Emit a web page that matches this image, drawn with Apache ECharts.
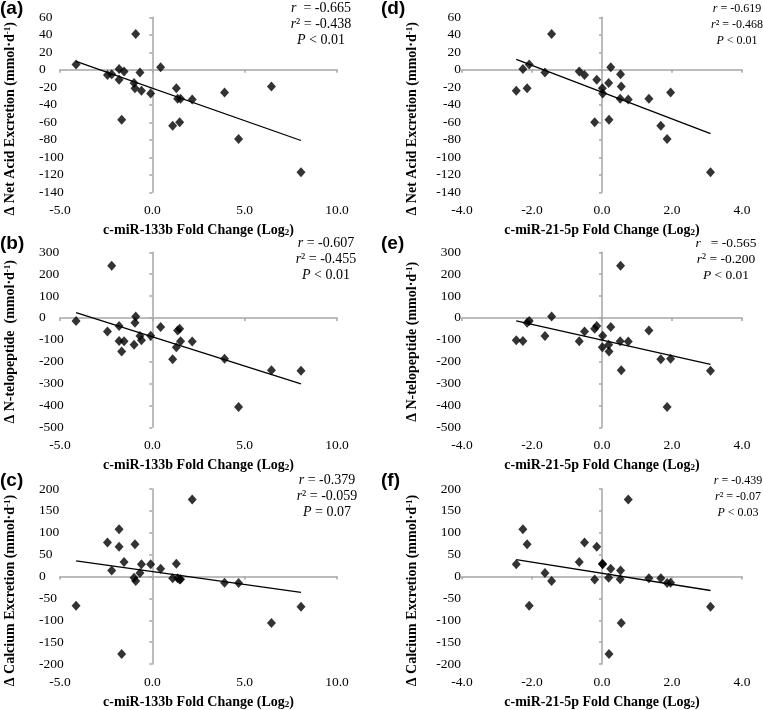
<!DOCTYPE html>
<html>
<head>
<meta charset="utf-8">
<script src="https://cdn.jsdelivr.net/npm/echarts@6/dist/echarts.min.js"></script>
<style>
html,body{margin:0;padding:0;background:#fff;}
#chart{width:763px;height:710px;}
</style>
</head>
<body>
<div id="chart"></div>
<script>
// ---- data: one entry per subject (24 subjects) ----
const x133 = [-4.13,-2.43,-2.20,-1.80,-1.80,-1.53,-1.66,-0.99,-0.94,-0.90,-0.67,-0.59,-0.09,0.45,1.30,1.10,1.37,1.53,1.48,2.16,3.91,4.67,6.45,8.05];
const x21  = [-2.08,-0.50,0.53,-2.26,-0.15,-0.65,0.20,0.19,-2.14,-1.44,-1.63,-2.45,0.02,0.25,0.01,1.68,1.34,0.52,-0.21,0.75,1.96,1.86,0.55,3.10];
const netAcid = [6,-6,-5,1,-11.4,-2,-57,-15,-21,41,-3,-24,-27,3,-21,-64,-33,-33,-60,-34,-26,-79,-19,-117];
const nTelo   = [-14,-62,238,-105,-37,-107,-154,-123,-22,7,-83,-102,-81,-41,-134,-189,-58,-107,-50,-108,-187,-407,-239,-242];
const calcium = [-67,78,14,108,68,33,-177,-3,74,-10,8,28,28,18,29,-4,-4,-6,-7,176,-14,-15,-106,-69];

// regression lines (end points)
const trendA = [[-4.13, 9.5], [8.05, -80.8]];
const trendB = [[-4.13, 24.4], [8.05, -302]];
const trendC = [[-4.13, 35.7], [8.05, -36.5]];
const trendD = [[-2.45, 11.8], [3.10, -73]];
const trendE = [[-2.45, -13.7], [3.10, -212]];
const trendF = [[-2.45, 38.8], [3.10, -32]];

// statistics text
const statR  = ['-0.665', '-0.607', '-0.379', '-0.619', '-0.565', '-0.439'];
const statR2 = ['-0.438', '-0.455', '-0.059', '-0.468', '-0.200', '-0.07'];
const statP  = ['< 0.01', '< 0.01', '= 0.07', '< 0.01', '< 0.01', '< 0.03'];
const letters = ['(a)', '(b)', '(c)', '(d)', '(e)', '(f)'];

const xTitle133 = 'c-miR-133b Fold Change (Log{sub|2})';
const xTitle21  = 'c-miR-21-5p Fold Change (Log{sub|2})';
const yTitleNAE = 'Δ Net Acid Excretion (mmol·d{sup|-1})';
const yTitleNTx1 = 'Δ N-telopeptide  (mmol·d{sup|-1})';
const yTitleNTx2 = 'Δ N-telopeptide (mmol·d{sup|-1})';
const yTitleCa  = 'Δ Calcium Excretion (mmol·d{sup|-1})';

// ---- layout ----
const SERIF = 'Liberation Serif, Times New Roman, serif';
const SANS = 'Liberation Sans, Arial, sans-serif';
const LEFT = {left: 60, width: 277};
const RIGHT = {left: 462, width: 280};
const ROWS = [17.3, 252.3, 489];
const H = 175;

const panels = [
  {col: LEFT,  row: 0, xs: x133, ys: netAcid, trend: trendA, xr: [-5, 10, 5], yr: [-140, 60, 20], xName: xTitle133, yName: yTitleNAE, yShift: 28, statX: 321, statFont: 14},
  {col: LEFT,  row: 1, xs: x133, ys: nTelo,   trend: trendB, xr: [-5, 10, 5], yr: [-500, 300, 100], xName: xTitle133, yName: yTitleNTx1, yShift: 4, statX: 326, statFont: 14},
  {col: LEFT,  row: 2, xs: x133, ys: calcium, trend: trendC, xr: [-5, 10, 5], yr: [-200, 200, 50], xName: xTitle133, yName: yTitleCa, yShift: 28, statX: 327, statFont: 14},
  {col: RIGHT, row: 0, xs: x21,  ys: netAcid, trend: trendD, xr: [-4, 4, 2],  yr: [-140, 60, 20], xName: xTitle21, yName: yTitleNAE, yShift: 28, statX: 737, statFont: 12},
  {col: RIGHT, row: 1, xs: x21,  ys: nTelo,   trend: trendE, xr: [-4, 4, 2],  yr: [-500, 300, 100], xName: xTitle21, yName: yTitleNTx2, yShift: 4, statX: 726, statFont: 13.5},
  {col: RIGHT, row: 2, xs: x21,  ys: calcium, trend: trendF, xr: [-4, 4, 2],  yr: [-200, 200, 50], xName: xTitle21, yName: yTitleCa, yShift: 28, statX: 738, statFont: 12}
];

const AXIS_GRAY = '#a6a6a6';
const richTitle = {
  sub: {fontFamily: SERIF, fontWeight: 'bold', fontSize: 9, verticalAlign: 'bottom', color: '#000'},
  sup: {fontFamily: SERIF, fontWeight: 'bold', fontSize: 9, verticalAlign: 'top', color: '#000'}
};

const grid = [], xAxis = [], yAxis = [], series = [], graphic = [];

panels.forEach((p, i) => {
  const isLeft = p.col === LEFT;
  grid.push({left: p.col.left, width: p.col.width, top: ROWS[p.row], height: H});
  // label x-axis (bottom edge)
  xAxis.push({
    type: 'value', gridIndex: i, position: 'bottom',
    min: p.xr[0], max: p.xr[1], interval: p.xr[2],
    axisLine: {show: false, onZero: false}, axisTick: {show: false}, splitLine: {show: false},
    axisLabel: {formatter: v => v.toFixed(1), color: '#000', fontFamily: SERIF, fontSize: 13.5, margin: 11},
    name: p.xName, nameLocation: 'middle', nameGap: 31,
    nameTextStyle: {fontFamily: SERIF, fontWeight: 'bold', fontSize: 14, color: '#000', rich: richTitle}
  });
  // zero-line x-axis
  xAxis.push({
    type: 'value', gridIndex: i, position: 'bottom',
    min: p.xr[0], max: p.xr[1], interval: p.xr[2],
    axisLine: {show: true, onZero: true, lineStyle: {color: AXIS_GRAY, width: 1.5}},
    axisTick: {show: true, length: 3, lineStyle: {color: AXIS_GRAY, width: 1.5}},
    axisLabel: {show: false}, splitLine: {show: false}
  });
  // label y-axis (left edge)
  yAxis.push({
    type: 'value', gridIndex: i, position: 'left',
    min: p.yr[0], max: p.yr[1], interval: p.yr[2],
    axisLine: {show: false, onZero: false}, axisTick: {show: false}, splitLine: {show: false},
    axisLabel: {color: '#000', fontFamily: SERIF, fontSize: 13.5,
      align: isLeft ? 'left' : 'right', margin: isLeft ? 21 : 1},
    name: p.yName, nameLocation: 'middle', nameGap: 43,
    nameTextStyle: {fontFamily: SERIF, fontWeight: 'bold', fontSize: 14, color: '#000', rich: richTitle,
      padding: [0, p.yShift, 0, 0]}
  });
  // zero-line y-axis
  yAxis.push({
    type: 'value', gridIndex: i, position: 'left',
    min: p.yr[0], max: p.yr[1], interval: p.yr[2],
    axisLine: {show: true, onZero: true, lineStyle: {color: AXIS_GRAY, width: 1.5}},
    axisTick: {show: true, length: 3, lineStyle: {color: AXIS_GRAY, width: 1.5}},
    axisLabel: {show: false}, splitLine: {show: false}
  });
  series.push({
    type: 'line', xAxisIndex: 2 * i, yAxisIndex: 2 * i,
    data: p.trend, symbol: 'none', silent: true, z: 2,
    lineStyle: {color: '#000', width: 1.3}
  });
  series.push({
    type: 'scatter', xAxisIndex: 2 * i, yAxisIndex: 2 * i,
    data: p.xs.map((v, k) => [v, p.ys[k]]),
    symbol: 'diamond', symbolSize: [9, 10], z: 3,
    itemStyle: {color: '#000'}
  });
  // statistics
  const rSp = i === 0 ? '  ' : (i === 4 ? '   ' : ' ');
  graphic.push({
    type: 'text', x: p.statX, y: ROWS[p.row] - 16.5,
    style: {
      text: '{i|r}' + rSp + '= ' + statR[i] + '\n{i|r}² = ' + statR2[i] + '\n{i|P} ' + statP[i],
      fontFamily: SERIF, fontSize: p.statFont, fill: '#000',
      align: 'center', verticalAlign: 'top', textAlign: 'center', textVerticalAlign: 'top',
      lineHeight: 16,
      rich: {i: {fontFamily: SERIF, fontStyle: 'italic', fontSize: p.statFont, lineHeight: 16}}
    }
  });
  // panel letter
  graphic.push({
    type: 'text', x: isLeft ? 0 : 381, y: ROWS[p.row] - 18,
    style: {text: letters[i], fontFamily: SANS, fontWeight: 'bold', fontSize: 19, fill: '#000',
      align: 'left', verticalAlign: 'top', textAlign: 'left', textVerticalAlign: 'top'}
  });
});

const chart = echarts.init(document.getElementById('chart'), null, {renderer: 'canvas'});
chart.setOption({
  animation: false,
  backgroundColor: '#fff',
  grid, xAxis, yAxis, series, graphic
});
</script>
</body>
</html>
